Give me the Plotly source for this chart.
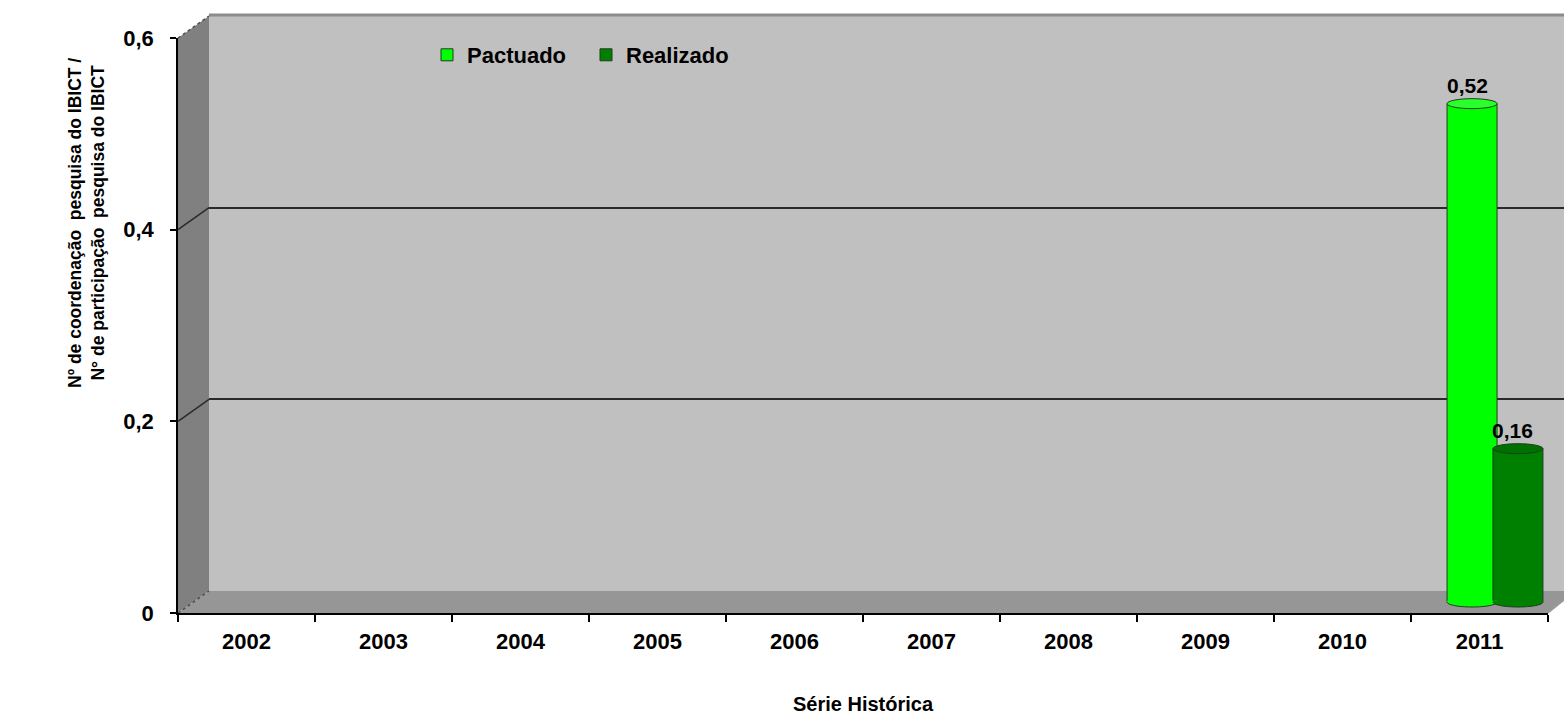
import plotly.graph_objects as go

# ---------------- data ----------------
years = [2002, 2003, 2004, 2005, 2006, 2007, 2008, 2009, 2010, 2011]
year_labels = ["2002", "2003", "2004", "2005", "2006", "2007", "2008", "2009", "2010", "2011"]
pactuado = [None, None, None, None, None, None, None, None, None, 0.52]
realizado = [None, None, None, None, None, None, None, None, None, 0.16]
y_tick_vals = [0, 0.2, 0.4, 0.6]
y_tick_labels = ["0", "0,2", "0,4", "0,6"]
series_names = ["Pactuado", "Realizado"]
series_colors = ["#00ff00", "#008000"]
cap_colors = ["#2bff2b", "#007000"]

# ---------------- geometry helpers (pixel -> paper) ----------------
W, H = 1564, 715
ML, MR, MT, MB = 178, 0, 13, 102
PW, PH = W - ML - MR, H - MT - MB
def fx(px):
    return (px - ML) / PW
def fy(py):
    return (H - MB - py) / PH

FONT = "Liberation Sans, Arial, sans-serif"
YMAX = 0.6
XR = [years[0] - 0.5, years[-1] + 0.5]
boundaries = [y - 0.5 for y in years] + [years[-1] + 0.5]
PX_PER_UNIT = 575 / YMAX          # vertical scale of the value axes
EXT = 10                          # extra px below mid-plane baseline (room for cylinder bottoms)

BAR_W = 0.365
OFFS = [-0.35, -0.015]
OUTLINE = "#1e3d1e"

fig = go.Figure()

# empty helper traces so that every axis pair is a drawn subplot
fig.add_trace(go.Scatter(x=[], y=[], xaxis="x", yaxis="y", showlegend=False, hoverinfo="skip"))
fig.add_trace(go.Scatter(x=[], y=[], xaxis="x3", yaxis="y3", showlegend=False, hoverinfo="skip"))

for i, (name, vals) in enumerate(zip(series_names, [pactuado, realizado])):
    fig.add_trace(go.Bar(
        x=years, y=vals, name=name, xaxis="x2", yaxis="y2",
        width=BAR_W, offset=OFFS[i], base=0,
        marker=dict(color=series_colors[i], line=dict(color=OUTLINE, width=1)),
        showlegend=True,
    ))

shapes = []
# side wall
shapes.append(dict(type="path", xref="paper", yref="paper", layer="below",
                   path=f"M{fx(178)},{fy(613)} L{fx(178)},{fy(38)} L{fx(209)},{fy(16)} L{fx(209)},{fy(591)} Z",
                   fillcolor="#808080", line=dict(width=0)))
# back wall
shapes.append(dict(type="rect", xref="paper", yref="paper", layer="below",
                   x0=fx(209), x1=1, y0=fy(591), y1=fy(16),
                   fillcolor="#c0c0c0", line=dict(width=0)))
shapes.append(dict(type="line", xref="paper", yref="paper", layer="below",
                   x0=fx(209), x1=1, y0=fy(15), y1=fy(15),
                   line=dict(color="#8c8c8c", width=3)))
# floor
shapes.append(dict(type="path", xref="paper", yref="paper", layer="below",
                   path=f"M{fx(178)},{fy(613)} L{fx(209)},{fy(591)} L1,{fy(591)} L1,{fy(600)} L{fx(1548)},{fy(613)} Z",
                   fillcolor="#969696", line=dict(width=0)))
shapes.append(dict(type="line", xref="paper", yref="paper", layer="below",
                   x0=fx(1548), x1=1, y0=fy(613), y1=fy(600),
                   line=dict(color="#9a9a9a", width=1.5)))
# side wall gridline diagonals
for v in y_tick_vals:
    yf = 613 - v * PX_PER_UNIT
    yb = 591 - v * PX_PER_UNIT
    dash = "dot" if v in (0, 0.6) else "solid"
    col = "#505050" if v in (0, 0.6) else "#2a2a2a"
    shapes.append(dict(type="line", xref="paper", yref="paper", layer="below",
                       x0=fx(178), x1=fx(209), y0=fy(yf), y1=fy(yb),
                       line=dict(color=col, width=1.5, dash=dash)))

# cylinder caps (top ellipse, rounded bottom)
CAP = 5 / PX_PER_UNIT
K = 0.5523
annotations = []
for i, vals in enumerate([pactuado, realizado]):
    for x, v in zip(years, vals):
        if v is None:
            continue
        xa = x + OFFS[i]
        xb = xa + BAR_W
        xc = (xa + xb) / 2
        rx = BAR_W / 2
        top = 1.2 / PX_PER_UNIT
        arc = (f"C{xa},{-K * CAP} {xc - K * rx},{-CAP} {xc},{-CAP} "
               f"C{xc + K * rx},{-CAP} {xb},{-K * CAP} {xb},0")
        # filled lower half-ellipse covering the flat bar bottom
        shapes.append(dict(type="path", xref="x2", yref="y2", layer="above",
                           path=f"M{xa},{top} L{xa},0 {arc} L{xb},{top} Z",
                           fillcolor=series_colors[i], line=dict(width=0)))
        # outline of the rounded bottom
        shapes.append(dict(type="path", xref="x2", yref="y2", layer="above",
                           path=f"M{xa},0 {arc}",
                           line=dict(color=OUTLINE, width=1)))
        # top cap
        shapes.append(dict(type="circle", xref="x2", yref="y2", layer="above",
                           x0=xa, x1=xb, y0=v - CAP, y1=v + CAP,
                           fillcolor=cap_colors[i], line=dict(color=OUTLINE, width=1)))
        annotations.append(dict(x=xc, y=v, xref="x2", yref="y2",
                                text=f"{v:.2f}".replace(".", ","), showarrow=False,
                                yshift=18, xshift=-5,
                                font=dict(family=FONT, size=21, color="black", weight="bold")))

annotations.append(dict(x=fx(86), y=fy(223), xref="paper", yref="paper",
                        xanchor="center", yanchor="middle",
                        text="Nº de coordenação  pesquisa do IBICT /<br>N° de participação  pesquisa do IBICT",
                        textangle=-90, showarrow=False, align="center",
                        font=dict(family=FONT, size=17.5, color="black", weight="bold")))
annotations.append(dict(x=fx(863), y=fy(704), xref="paper", yref="paper",
                        xanchor="center", yanchor="middle",
                        text="Série Histórica", showarrow=False,
                        font=dict(family=FONT, size=20, color="black", weight="bold")))

tickfont = dict(family=FONT, size=22, color="black", weight="bold")
hidden = dict(showgrid=False, showticklabels=False, showline=False, zeroline=False, ticks="")

fig.update_layout(
    width=W, height=H,
    margin=dict(l=ML, r=MR, t=MT, b=MB, pad=0),
    paper_bgcolor="white",
    plot_bgcolor="rgba(0,0,0,0)",
    separators=",.",
    barmode="overlay",
    shapes=shapes,
    annotations=annotations,
    # back wall axes (gridlines)
    xaxis=dict(domain=[fx(209), 1], range=XR, anchor="y", **hidden),
    yaxis=dict(domain=[fy(591), fy(16)], range=[0, YMAX], anchor="x",
               tickvals=[0, 0.2, 0.4], showgrid=True, gridcolor="#2a2a2a", gridwidth=1.5,
               showticklabels=False, ticks="", zeroline=False, showline=False),
    # bars (mid-depth plane), domain extended below the baseline for the cylinder bottoms
    xaxis2=dict(domain=[fx(193.5), fx(1563.5)], range=XR, anchor="y2", **hidden),
    yaxis2=dict(domain=[fy(602 + EXT), fy(27)], range=[-EXT / PX_PER_UNIT, YMAX], anchor="x2", **hidden),
    # front axes (labels, ticks)
    xaxis3=dict(domain=[0, fx(1548)], range=XR, anchor="y3",
                tickmode="array", tickvals=years, ticktext=year_labels, ticks="", showgrid=False,
                showline=True, linecolor="black", linewidth=1.5, zeroline=False,
                tickfont=tickfont, ticklabelstandoff=8,
                minor=dict(tickmode="array", tickvals=boundaries, ticks="outside", ticklen=7,
                           tickcolor="black", tickwidth=1.5, showgrid=False)),
    yaxis3=dict(domain=[0, fy(38)], range=[0, YMAX], anchor="x3",
                tickmode="array", tickvals=y_tick_vals, ticktext=y_tick_labels, ticks="outside", ticklen=6,
                tickcolor="black", tickwidth=1.5, showgrid=False, zeroline=False,
                showline=True, linecolor="black", linewidth=1.5,
                tickfont=tickfont, ticklabelstandoff=12),
    legend=dict(orientation="h", x=fx(427), y=fy(34), xanchor="left", yanchor="top",
                bgcolor="rgba(0,0,0,0)", font=dict(family=FONT, size=22, color="black", weight="bold"),
                traceorder="normal", entrywidth=114),
)

fig.write_html("out.html", post_script="document.body.style.margin='0px';",
               config={"displayModeBar": False})
